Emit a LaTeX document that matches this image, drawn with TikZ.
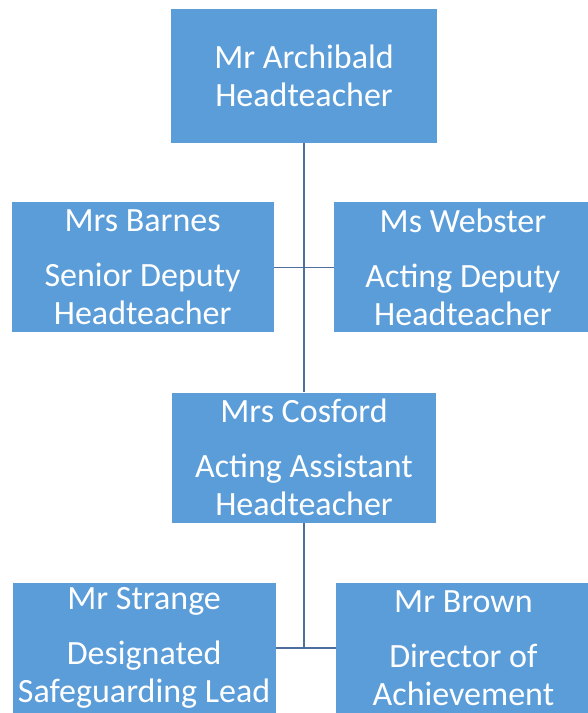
\documentclass[tikz,border=0pt]{standalone}
\usepackage{fontspec}
\setmainfont{Carlito}
\usepackage{xcolor}
\usepackage{tikz}
\usetikzlibrary{positioning}
\definecolor{staffblue}{RGB}{91,157,217}
\definecolor{linkgrey}{RGB}{79,110,160}

\begin{document}
\begin{tikzpicture}[
  staff/.style={
    fill=staffblue,
    text=white,
    align=center,
    font=\fontsize{17}{19}\selectfont,
    inner sep=0pt,
    minimum height=65pt
  },
  link/.style={draw=linkgrey, line width=0.8pt}
]
\useasboundingbox (0,0) rectangle (294pt,-356.5pt);

% Head
\node[staff, minimum width=133pt, minimum height=67pt] (head) at (152pt,-38pt) {Mr Archibald\\Headteacher};

% Deputies
\coordinate[below=62pt of head.south] (deputyjoin);
\node[staff, minimum width=131pt, anchor=east] (barnes) [left=15pt of deputyjoin] {Mrs Barnes\\[8.5pt]Senior Deputy\\Headteacher};
\node[staff, minimum width=128.5pt, anchor=west] (webster) [right=15pt of deputyjoin] {Ms Webster\\[8.5pt]Acting Deputy\\Headteacher};

% Assistant head
\node[staff, minimum width=132pt] (cosford) [below=124.5pt of head] {Mrs Cosford\\[8.5pt]Acting Assistant\\Headteacher};

% Leads
\coordinate[below=62.5pt of cosford.south] (leadjoin);
\node[staff, minimum width=131.5pt] (strange) [left=14pt of leadjoin] {Mr Strange\\[8.5pt]Designated\\Safeguarding Lead};
\node[staff, minimum width=127pt] (brown) [right=16pt of leadjoin] {Mr Brown\\[8.5pt]Director of\\Achievement};

% Lines
\draw[link] (head) -- (cosford);
\draw[link] (barnes) -- (webster);
\draw[link] (cosford) -- (leadjoin);
\draw[link] (strange) -- (brown);

\end{tikzpicture}
\end{document}
